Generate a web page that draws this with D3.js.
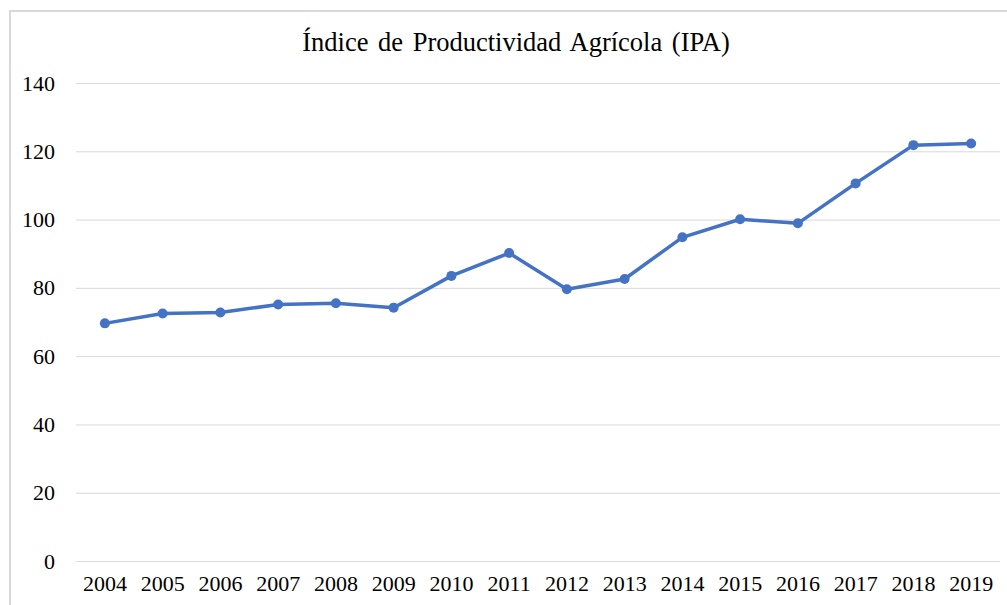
<!DOCTYPE html>
<html>
<head>
<meta charset="utf-8">
<script src="https://cdn.jsdelivr.net/npm/d3@7"></script>
<style>
  html, body { margin: 0; padding: 0; background: #fff; }
  svg { display: block; }
</style>
</head>
<body>
<div id="chart"></div>
<script>
const title = "Índice de Productividad Agrícola (IPA)";
const years = ["2004","2005","2006","2007","2008","2009","2010","2011","2012","2013","2014","2015","2016","2017","2018","2019"];
const ipa = [69.6, 72.5, 72.8, 75.1, 75.5, 74.2, 83.5, 90.2, 79.6, 82.6, 94.8, 100.1, 98.9, 110.6, 121.8, 122.3];
const yTicks = [0, 20, 40, 60, 80, 100, 120, 140];

const W = 1007, H = 605;
const margin = { left: 76, right: 7, top: 83, bottom: 44 };
const font = "'Liberation Serif', 'Times New Roman', serif";

const svg = d3.select("#chart").append("svg")
  .attr("width", W).attr("height", H);

// chart frame
svg.append("rect")
  .attr("x", 10).attr("y", 11)
  .attr("width", W + 20).attr("height", H + 20)
  .attr("fill", "#fff").attr("stroke", "#d9d9d9").attr("stroke-width", 2);

const x = d3.scaleBand().domain(years)
  .range([margin.left, W - margin.right]);
const y = d3.scaleLinear().domain([0, 140])
  .range([H - margin.bottom, margin.top]);

// gridlines + y labels
const yAxis = d3.axisLeft(y).tickValues(yTicks)
  .tickSize(-(W - margin.right - margin.left)).tickPadding(21).tickFormat(d3.format("d"));
const gy = svg.append("g").attr("transform", `translate(${margin.left},0)`).call(yAxis);
gy.select(".domain").remove();
gy.selectAll(".tick line").attr("stroke", "#d9d9d9").attr("stroke-width", 1);
gy.selectAll(".tick text")
  .attr("font-family", font).attr("font-size", 22).attr("fill", "#000");

// x labels
const xAxis = d3.axisBottom(x).tickSize(0).tickPadding(14);
const gx = svg.append("g").attr("transform", `translate(0,${H - margin.bottom})`).call(xAxis);
gx.select(".domain").remove();
gx.selectAll(".tick text")
  .attr("font-family", font).attr("font-size", 22).attr("fill", "#000");

const cx = d => x(d) + x.bandwidth() / 2;

// line
const line = d3.line().x((d, i) => cx(years[i])).y(d => y(d));
svg.append("path").datum(ipa)
  .attr("d", line).attr("fill", "none")
  .attr("stroke", "#4472C4").attr("stroke-width", 3.5)
  .attr("stroke-linejoin", "round");

// markers
svg.selectAll("circle.pt").data(ipa).enter().append("circle")
  .attr("class", "pt")
  .attr("cx", (d, i) => cx(years[i])).attr("cy", d => y(d))
  .attr("r", 5).attr("fill", "#4472C4");

// title
svg.append("text")
  .attr("x", 516).attr("y", 51)
  .attr("text-anchor", "middle")
  .attr("font-family", font).attr("font-size", 26.5).attr("fill", "#000")
  .attr("word-spacing", 3)
  .text(title);
</script>
</body>
</html>
